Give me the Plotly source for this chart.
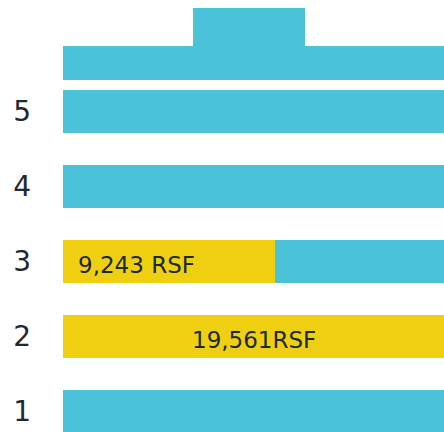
import plotly.graph_objects as go

# ---- data ----
floors = [1, 2, 3, 4, 5]
floor_labels = ["1", "2", "3", "4", "5"]
floor_rsf = [19561, 19561, 19561, 19561, 19561]   # full floor plate
leased_floors = [2, 3]
leased_rsf = [19561, 9243]
leased_text = ["19,561RSF", "9,243 RSF"]
roof_level = 5.647
roof_rsf = 19561
penthouse_level = 6.127
penthouse_start = 5668
penthouse_rsf = 4883

CYAN = "#4AC3D9"
YELLOW = "#EFD011"
TEXT = "#1E2935"
FONT = "DejaVu Sans, sans-serif"

fig = go.Figure()
fig.add_trace(go.Bar(y=floors, x=floor_rsf, orientation="h", width=0.573,
                     marker=dict(color=CYAN, line=dict(width=0)), hoverinfo="skip"))
fig.add_trace(go.Bar(y=[roof_level], x=[roof_rsf], orientation="h", width=0.453,
                     marker=dict(color=CYAN, line=dict(width=0)), hoverinfo="skip"))
fig.add_trace(go.Bar(y=[penthouse_level], x=[penthouse_rsf], base=[penthouse_start],
                     orientation="h", width=0.507,
                     marker=dict(color=CYAN, line=dict(width=0)), hoverinfo="skip"))
fig.add_trace(go.Bar(y=leased_floors, x=leased_rsf, orientation="h", width=0.573,
                     marker=dict(color=YELLOW, line=dict(width=0)), hoverinfo="skip"))

# labels
fig.add_annotation(x=0.5, xref="x domain", y=leased_floors[0], yref="y",
                   text=leased_text[0], showarrow=False, yshift=-3,
                   font=dict(family=FONT, size=23, color=TEXT))
fig.add_annotation(x=0, xref="x domain", y=leased_floors[1], yref="y",
                   text=leased_text[1], showarrow=False, xanchor="left", xshift=13, yshift=-3,
                   font=dict(family=FONT, size=23, color=TEXT))

fig.update_layout(
    width=444, height=432,
    margin=dict(l=0, r=0, t=0, b=0),
    paper_bgcolor="white", plot_bgcolor="white",
    barmode="overlay", showlegend=False,
    xaxis=dict(domain=[63 / 444, 1], range=[0, 16611], showgrid=False, zeroline=False,
               showticklabels=False, showline=False, fixedrange=True),
    yaxis=dict(range=[0.7267, 6.4867], showgrid=False, zeroline=False, showline=False,
               tickvals=floors, ticktext=floor_labels, ticks="",
               ticklabelstandoff=31,
               tickfont=dict(family=FONT, size=28, color=TEXT), fixedrange=True),
)

fig.write_html("out.html", config={"displayModeBar": False},
               post_script="document.body.style.margin='0';")
